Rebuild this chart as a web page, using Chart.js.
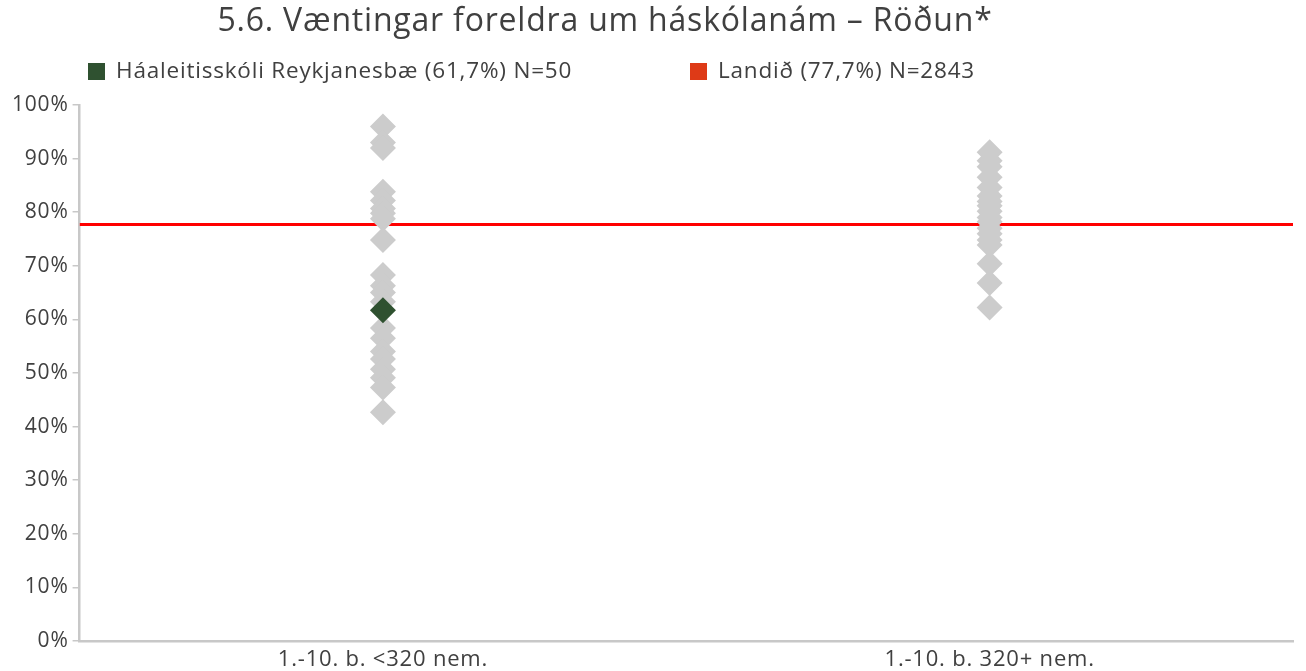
<!DOCTYPE html>
<html>
<head>
<meta charset="utf-8">
<script src="https://cdn.jsdelivr.net/npm/chart.js@4.4.1/dist/chart.umd.min.js"></script>
<style>
  html, body { margin: 0; padding: 0; background: #fff; }
  #wrap { width: 1306px; height: 671px; }
</style>
</head>
<body>
<div id="wrap"><canvas id="myChart"></canvas></div>
<script>
var categories = ["1.-10. b. <320 nem.", "1.-10. b. 320+ nem."];
var smallSchools = [96, 93, 92, 83.8, 82.2, 80.7, 79.8, 78.8, 74.8, 68.3, 66.3, 65, 63.3, 58.4, 56.5, 54, 52.6, 50.7, 49.1, 47.3, 42.7];
var largeSchools = [91.2, 89.6, 88.5, 86.5, 84.6, 83, 82, 81.2, 80.2, 79, 78.2, 77, 76, 74.8, 73.9, 70.4, 66.8, 62.2];
var schoolValue = 61.7;
var nationalValue = 77.7;
var seriesLabels = ["Háaleitisskóli Reykjanesbæ (61,7%) N=50", "Landið (77,7%) N=2843"];
var yTicks = [0, 10, 20, 30, 40, 50, 60, 70, 80, 90, 100];

var textColor = "#404040";
var font = "'Open Sans', sans-serif";
var spacing = "0.8px";

function toPoints(values, catIndex) {
    return values.map(function (v) { return { x: catIndex + 0.5, y: v }; });
}

// a little extra tracking on all canvas text (state is lost on resize, so set it again)
var tracking = {
    id: "tracking",
    beforeLayout: function (chart) { chart.ctx.letterSpacing = spacing; },
    beforeDraw: function (chart) { chart.ctx.letterSpacing = spacing; }
};

// title and legend row above the plot
var header = {
    id: "header",
    afterDraw: function (chart) {
        var ctx = chart.ctx;
        ctx.save();
        ctx.fillStyle = textColor;
        ctx.textBaseline = "middle";
        ctx.textAlign = "center";
        ctx.font = "32px " + font;
        ctx.fillText("5.6. Væntingar foreldra um háskólanám – Röðun*", 605, 22);

        var items = [
            { text: seriesLabels[0], color: "#2f5130", x: 88 },
            { text: seriesLabels[1], color: "#de3a17", x: 690 }
        ];
        ctx.textAlign = "left";
        ctx.font = "22.5px " + font;
        items.forEach(function (it) {
            ctx.fillStyle = it.color;
            ctx.fillRect(it.x, 63, 17, 17);
            ctx.fillStyle = textColor;
            ctx.fillText(it.text, it.x + 28, 72);
        });
        ctx.restore();
    }
};

// datasets listed top-most first: the green school on top, the national line underneath
new Chart("myChart", {
    data: {
        datasets: [{
            type: "scatter",
            label: seriesLabels[0],
            data: toPoints([schoolValue], 0),
            backgroundColor: "#2f5130",
            borderWidth: 0,
            pointStyle: "rectRot",
            pointRadius: 13
        }, {
            type: "scatter",
            label: "small",
            data: toPoints(smallSchools, 0),
            backgroundColor: "#cccccc",
            borderWidth: 0,
            pointStyle: "rectRot",
            pointRadius: 13
        }, {
            type: "scatter",
            label: "large",
            data: toPoints(largeSchools, 1),
            backgroundColor: "#cccccc",
            borderWidth: 0,
            pointStyle: "rectRot",
            pointRadius: 13
        }, {
            type: "line",
            label: seriesLabels[1],
            data: [{ x: 0, y: nationalValue }, { x: 2, y: nationalValue }],
            borderColor: "#ff0000",
            borderWidth: 3,
            pointRadius: 0
        }]
    },
    options: {
        responsive: true,
        maintainAspectRatio: false,
        animation: false,
        layout: { padding: { top: 105, right: 0, left: 8, bottom: 0 } },
        plugins: {
            legend: { display: false },
            title: { display: false },
            tooltip: { enabled: false }
        },
        scales: {
            x: {
                type: "linear",
                min: 0,
                max: 2,
                afterBuildTicks: function (axis) {
                    axis.ticks = categories.map(function (c, i) { return { value: i + 0.5 }; });
                },
                ticks: {
                    color: textColor,
                    font: { family: font, size: 22, lineHeight: 1 },
                    padding: 0,
                    callback: function (v) { return categories[Math.floor(v)]; }
                },
                grid: { display: false },
                border: { color: "#c8c8c8", width: 2.5 }
            },
            y: {
                min: 0,
                max: 100,
                afterBuildTicks: function (axis) {
                    axis.ticks = yTicks.map(function (v) { return { value: v }; });
                },
                ticks: {
                    color: textColor,
                    font: { family: font, size: 21 },
                    padding: 4,
                    callback: function (v) { return v + "%"; }
                },
                grid: { drawOnChartArea: false, drawTicks: true, tickLength: 7, color: "#c8c8c8", lineWidth: 1.5 },
                border: { color: "#c8c8c8", width: 2.5 }
            }
        }
    },
    plugins: [tracking, header]
});
</script>
</body>
</html>
